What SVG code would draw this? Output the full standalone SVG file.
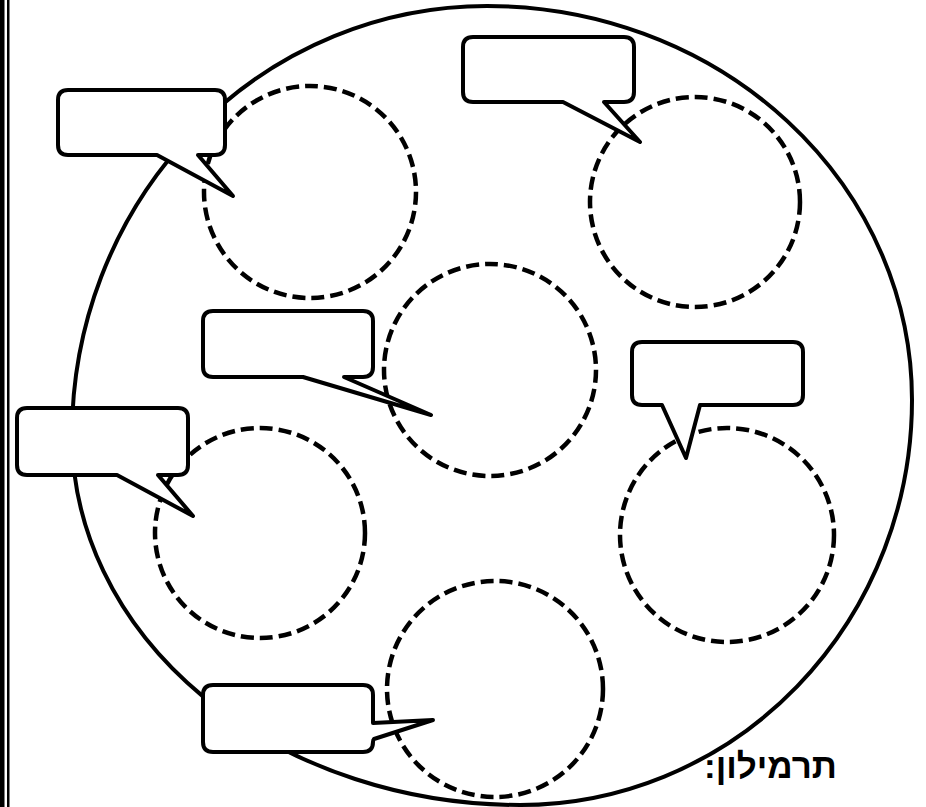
<svg xmlns="http://www.w3.org/2000/svg" width="926" height="807" viewBox="0 0 926 807">
<style>
.big{fill:none;stroke:#000;stroke-width:4}
.dash{fill:none;stroke:#000;stroke-width:4.5;stroke-dasharray:13 6}
.box{fill:#fff;stroke:#000;stroke-width:4;stroke-linejoin:round}
.lbl{font-family:"Liberation Sans","DejaVu Sans",sans-serif;font-weight:bold;font-size:35px;fill:#000}
</style>
<rect width="926" height="807" fill="#fff"/>
<g id="border">
<rect x="0" y="0" width="4.5" height="807" fill="#000"/>
<rect x="7" y="0" width="2.5" height="807" fill="#000"/>
</g>
<g id="outer-circle">
<path class="big" d="M487,6 A425,394 0 0 1 912,400 A392,405 0 0 1 520,805 A448,370 0 0 1 72,435 A415,429 0 0 1 487,6 Z"/>
</g>
<g id="circles">
<circle id="c1" class="dash" cx="310" cy="192" r="106"/>
<circle id="c2" class="dash" cx="695" cy="202" r="105"/>
<circle id="c3" class="dash" cx="490" cy="370" r="106"/>
<circle id="c4" class="dash" cx="260" cy="533" r="105"/>
<circle id="c5" class="dash" cx="727" cy="535" r="107"/>
<circle id="c6" class="dash" cx="495" cy="689" r="108"/>
</g>
<g id="callouts">
<path id="b1" class="box" d="M68,90 H215 Q225,90 225,100 V145 Q225,155 215,155 H198 L233,196 L157,155 H68 Q58,155 58,145 V100 Q58,90 68,90 Z"/>
<path id="b2" class="box" d="M473,37 H624 Q634,37 634,47 V92 Q634,102 624,102 H604 L640,142 L563,102 H473 Q463,102 463,92 V47 Q463,37 473,37 Z"/>
<path id="b3" class="box" d="M213,311 H363 Q373,311 373,321 V367 Q373,377 363,377 H344 L431,415 L303,377 H213 Q203,377 203,367 V321 Q203,311 213,311 Z"/>
<path id="b4" class="box" d="M642,342 H793 Q803,342 803,352 V395 Q803,405 793,405 H700 L686,458 L662,405 H642 Q632,405 632,395 V352 Q632,342 642,342 Z"/>
<path id="b5" class="box" d="M27,408 H178 Q188,408 188,418 V465 Q188,475 178,475 H158 L193,516 L117,475 H27 Q17,475 17,465 V418 Q17,408 27,408 Z"/>
<path id="b6" class="box" d="M213,685 H363 Q373,685 373,695 V723 L433,720 L374,739 Q373,740 373,742 Q373,752 363,752 H213 Q203,752 203,742 V695 Q203,685 213,685 Z"/>
</g>
<g id="legend">
<text class="lbl" x="837" y="778" direction="rtl" text-anchor="start">תרמילון:</text>
</g>
</svg>
